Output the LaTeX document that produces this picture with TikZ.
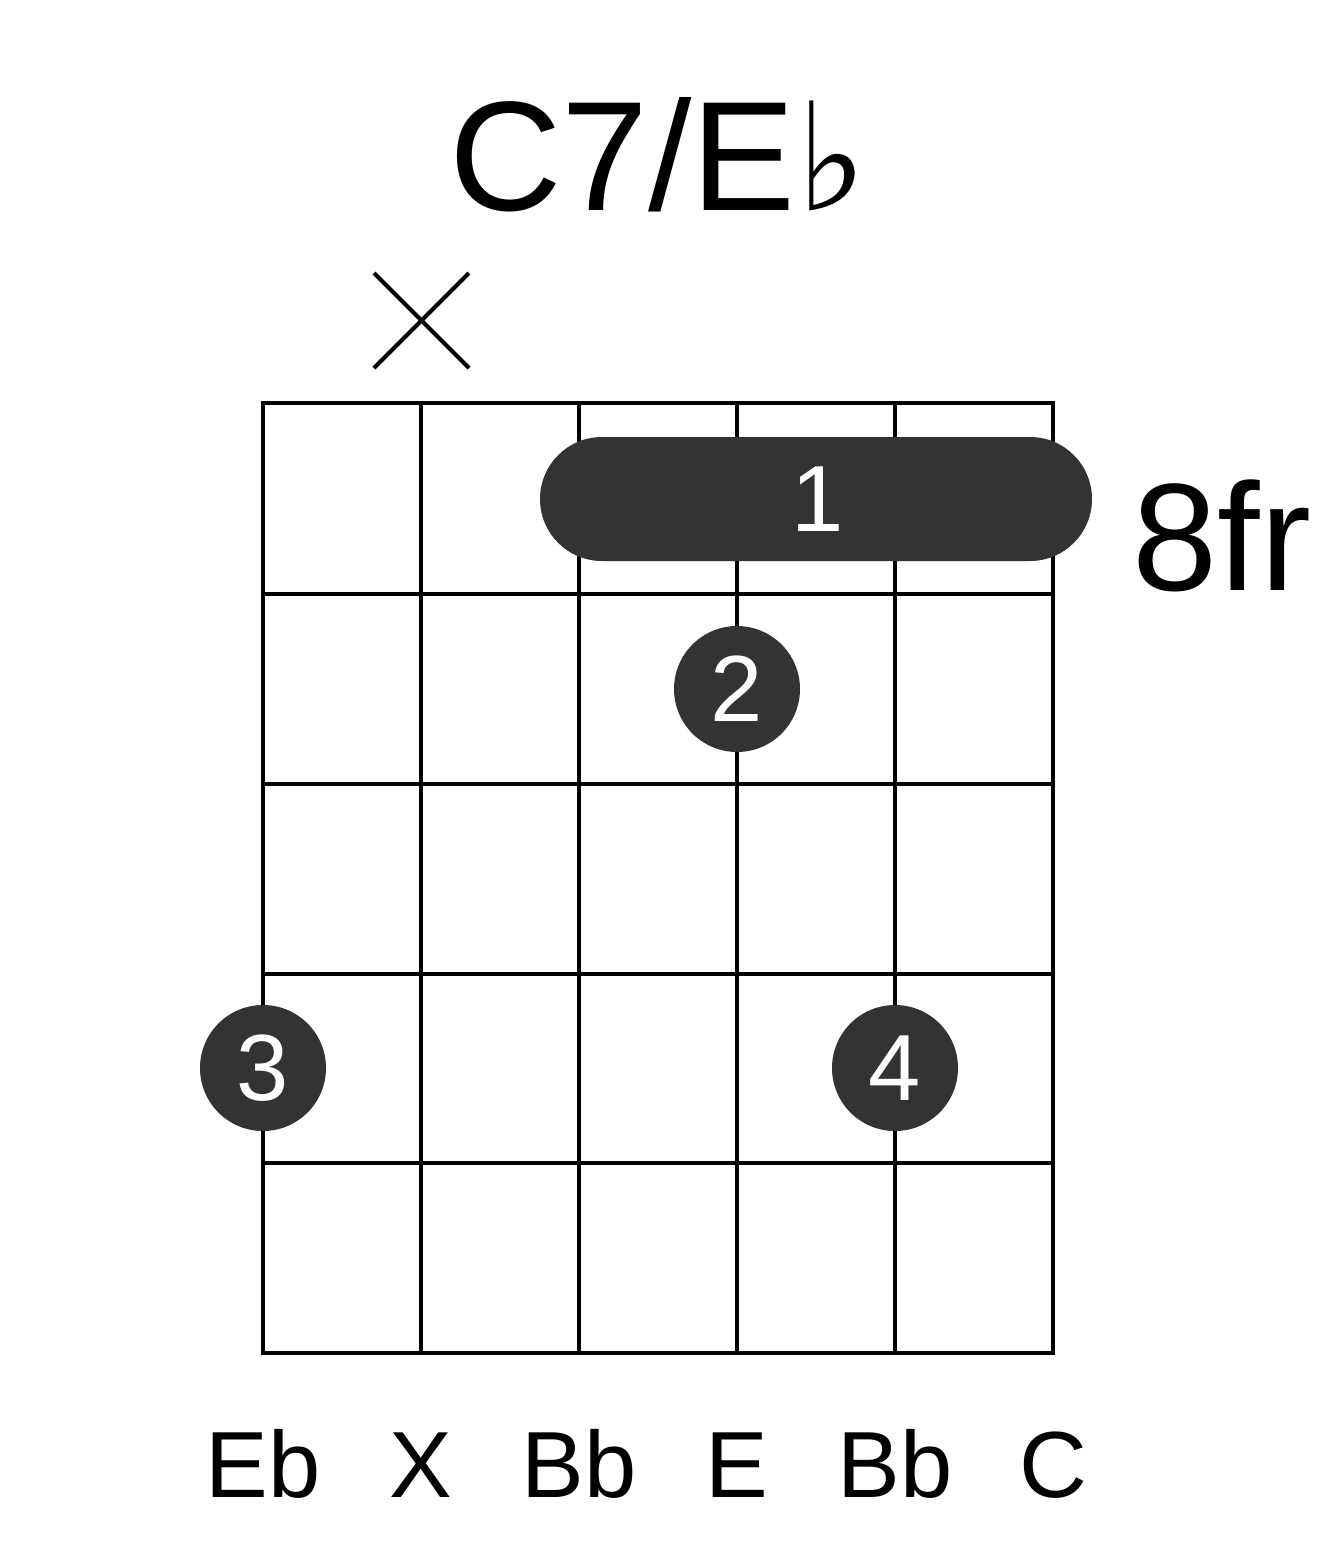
\documentclass[tikz,border=0pt]{standalone}
\usepackage{fontspec}
\setmainfont{Liberation Sans}
\newfontfamily\symf{DejaVu Serif}
\begin{document}
\begin{tikzpicture}[x=1pt,y=-1pt,
  grid/.style={line width=4pt},
  dot/.style={circle,fill=black!80,minimum size=126pt,inner sep=0pt,text=white,font=\fontsize{94}{94}\selectfont},
  lbl/.style={font=\fontsize{94}{94}\selectfont,anchor=base}]
\useasboundingbox (0,0) rectangle (1317,1551);
\foreach \x in {263,421,579,737,895,1053} \draw[grid] (\x,403) -- (\x,1353);
\foreach \y in {403,594,784,974,1163,1353} \draw[grid] (261,\y) -- (1055,\y);
\draw[line width=4pt] (374,273) -- (469,368) (374,368) -- (469,273);
\fill[black!80,rounded corners=62pt] (540,437) rectangle (1092,561);
\node[text=white,font=\fontsize{94}{94}\selectfont] (b1) at (818,499) {1};
\node[dot] (d2) at (737,689) {2};
\node[dot] (d3) at (263,1068) {3};
\node[dot] (d4) at (895,1068) {4};
\node[font=\fontsize{156}{156}\selectfont,anchor=base] (t) at (658,210) {C7/E{\symf\fontsize{150}{150}\selectfont ♭}};
\node[font=\fontsize{153}{153}\selectfont,anchor=base] (fr) at (1222,590) {8fr};
\foreach \x/\t [count=\i] in {263/Eb,421/X,579/Bb,737/E,895/Bb,1053/C}
  \node[lbl] (s\i) at (\x,1497) {\t};
\end{tikzpicture}
\end{document}
